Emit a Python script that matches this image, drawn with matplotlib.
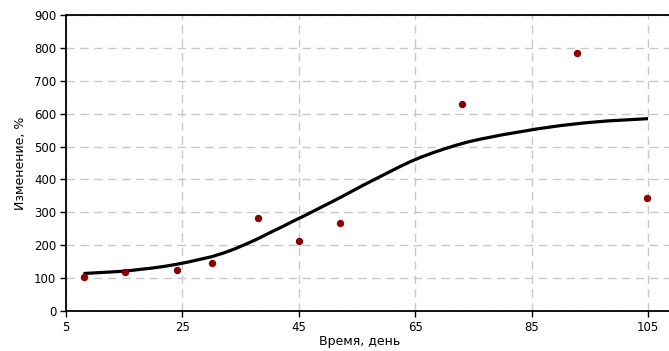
import matplotlib
matplotlib.use("Agg")
import matplotlib.pyplot as plt

plt.rcParams['font.family'] = ['DejaVu Sans']

# observed points
days = [8.1, 15.2, 24.0, 30.1, 38.0, 45.0, 52.0, 73.0, 92.8, 104.8]
change = [103, 118, 125, 147, 284, 213, 268, 630, 786, 345]

# fitted curve
fit_x = [8, 10, 12, 14, 16, 18, 20, 22, 24, 26, 28, 30, 32, 34, 36, 38, 40,
         42, 44, 46, 48, 50, 52, 54, 56, 58, 60, 62, 64, 66, 68, 70, 72, 74,
         76, 78, 80, 82, 84, 86, 88, 90, 92, 94, 96, 98, 100, 102, 104, 105]
fit_y = [114, 116, 118, 120, 123, 127, 131, 136, 142, 149, 157, 165, 176,
         189, 204, 220, 238, 255, 273, 290, 308, 326, 344, 363, 382, 400,
         418, 436, 453, 468, 481, 493, 504, 514, 522, 529, 536, 542, 548,
         554, 559, 564, 568, 572, 575, 578, 580, 582, 584, 585]

x_ticks = [5, 25, 45, 65, 85, 105]
y_ticks = [0, 100, 200, 300, 400, 500, 600, 700, 800, 900]

fig = plt.figure(figsize=(6.69, 3.51), dpi=100)
ax = fig.add_axes([0.0987, 0.114, 0.9013, 0.843])

ax.plot(fit_x, fit_y, color='black', lw=2.3, solid_capstyle='butt',
        solid_joinstyle='round', zorder=3)
ax.plot(days, change, 'o', color='#8B0000', ms=4.3, mec='#8B0000', zorder=4,
        linestyle='none')

ax.set_xlim(5, 108.6)
ax.set_ylim(0, 900)
ax.set_xticks(x_ticks)
ax.set_yticks(y_ticks)
ax.grid(True, color='#c8c8c8', linestyle=(0, (6, 4)), linewidth=1.0)
ax.set_axisbelow(True)

for s in ['left', 'bottom', 'top']:
    ax.spines[s].set_color('black')
    ax.spines[s].set_linewidth(1.3)
ax.spines['right'].set_visible(False)

ax.tick_params(axis='both', direction='out', length=4, width=1.0,
               labelsize=8.5, colors='black', pad=3)
ax.set_xlabel('Время, день', fontsize=9)
ax.set_ylabel('Изменение, %', fontsize=9)
ax.xaxis.set_label_coords(0.4876, -0.08)
ax.yaxis.set_label_coords(-0.064, 0.5)

fig.savefig('out.png', dpi=100)
